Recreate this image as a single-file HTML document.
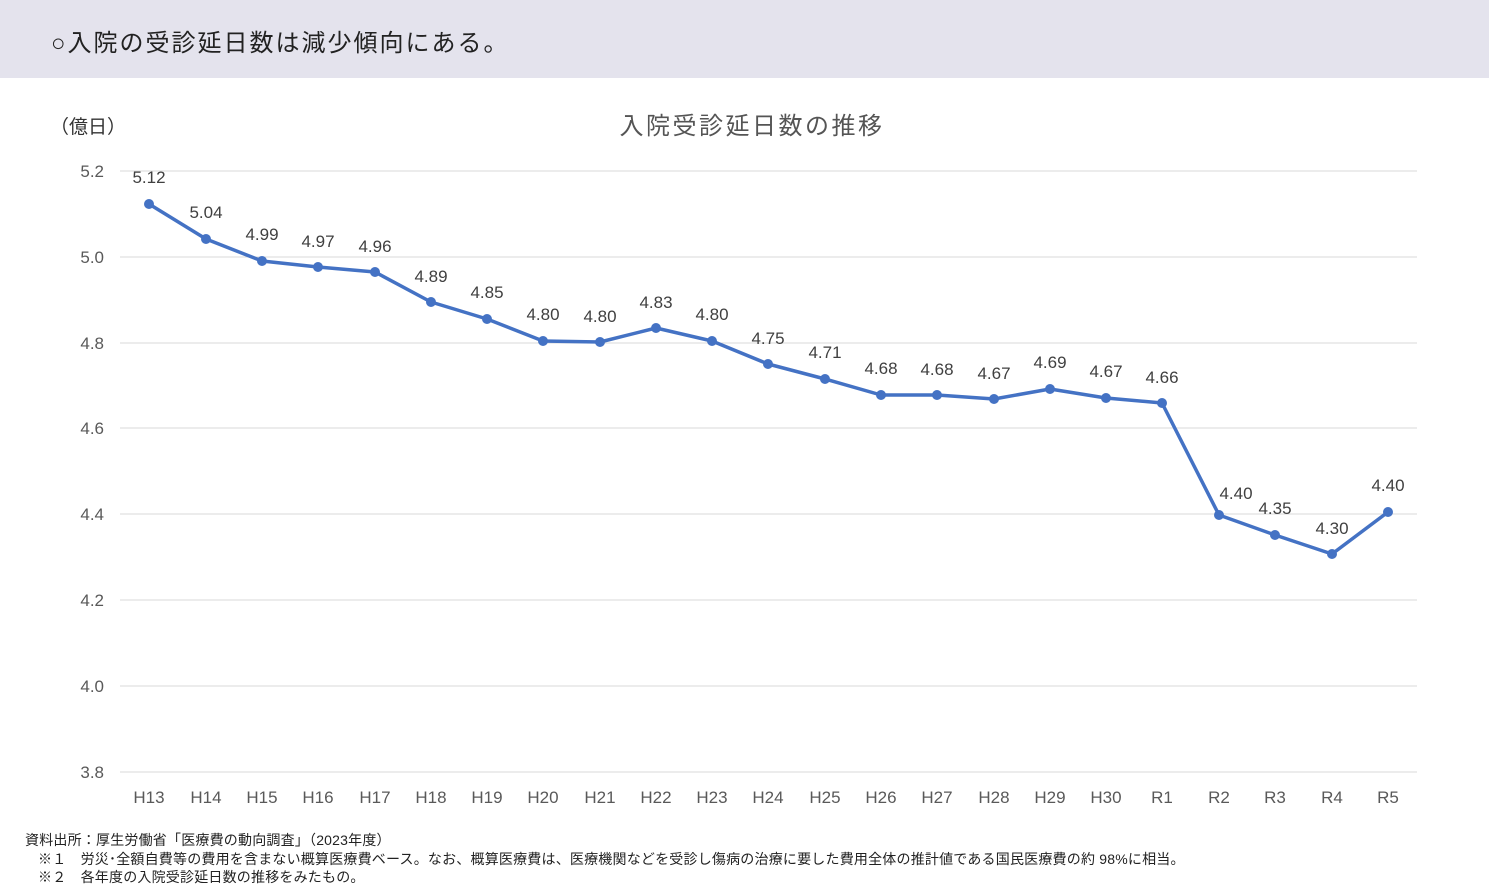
<!DOCTYPE html>
<html><head><meta charset="utf-8"><style>
body{margin:0;width:1489px;height:891px;background:#fff;font-family:"Liberation Sans","Noto Sans CJK JP",sans-serif;overflow:hidden;position:relative}
.hdr{position:absolute;left:0;top:0;width:1489px;height:78px;background:#e4e3ed}
.hdr span{position:absolute;left:51px;top:23px;font-size:24px;letter-spacing:2px;color:#222}
svg{position:absolute;left:0;top:0}
.f{position:absolute;font-size:14px;letter-spacing:0.2px;color:#222;white-space:nowrap}
</style></head><body>
<div class="hdr"><span>○入院の受診延日数は減少傾向にある。</span></div>
<svg width="1489" height="891" font-family="Liberation Sans, Noto Sans CJK JP, sans-serif">
<text x="50" y="133" font-size="19" fill="#333">（億日）</text>
<text x="752" y="134" font-size="24" letter-spacing="2.5" fill="#555" text-anchor="middle">入院受診延日数の推移</text>
<g stroke="#d9d9d9" stroke-width="1">
<line x1="120" x2="1417" y1="171" y2="171"/><line x1="120" x2="1417" y1="257" y2="257"/>
<line x1="120" x2="1417" y1="343" y2="343"/><line x1="120" x2="1417" y1="428" y2="428"/>
<line x1="120" x2="1417" y1="514" y2="514"/><line x1="120" x2="1417" y1="600" y2="600"/>
<line x1="120" x2="1417" y1="686" y2="686"/><line x1="120" x2="1417" y1="772" y2="772"/>
</g>
<g font-size="17" fill="#595959" text-anchor="end">
<text x="104" y="177">5.2</text><text x="104" y="263">5.0</text><text x="104" y="349">4.8</text>
<text x="104" y="434">4.6</text><text x="104" y="520">4.4</text><text x="104" y="606">4.2</text>
<text x="104" y="692">4.0</text><text x="104" y="778">3.8</text>
</g>
<g font-size="17" fill="#595959" text-anchor="middle">
<text x="149" y="803">H13</text><text x="206" y="803">H14</text><text x="262" y="803">H15</text><text x="318" y="803">H16</text><text x="375" y="803">H17</text><text x="431" y="803">H18</text><text x="487" y="803">H19</text><text x="543" y="803">H20</text><text x="600" y="803">H21</text><text x="656" y="803">H22</text><text x="712" y="803">H23</text><text x="768" y="803">H24</text><text x="825" y="803">H25</text><text x="881" y="803">H26</text><text x="937" y="803">H27</text><text x="994" y="803">H28</text><text x="1050" y="803">H29</text><text x="1106" y="803">H30</text><text x="1162" y="803">R1</text><text x="1219" y="803">R2</text><text x="1275" y="803">R3</text><text x="1332" y="803">R4</text><text x="1388" y="803">R5</text>
</g>
<polyline fill="none" stroke="#4472c4" stroke-width="3.5" stroke-linejoin="round" points="149,204 206,239 262,261 318,267 375,272 431,302 487,319 543,341 600,342 656,328 712,341 768,364 825,379 881,395 937,395 994,399 1050,389 1106,398 1162,403 1219,515 1275,535 1332,554 1388,512"/>
<g fill="#4472c4">
<circle cx="149" cy="204" r="5"/><circle cx="206" cy="239" r="5"/><circle cx="262" cy="261" r="5"/><circle cx="318" cy="267" r="5"/><circle cx="375" cy="272" r="5"/><circle cx="431" cy="302" r="5"/><circle cx="487" cy="319" r="5"/><circle cx="543" cy="341" r="5"/><circle cx="600" cy="342" r="5"/><circle cx="656" cy="328" r="5"/><circle cx="712" cy="341" r="5"/><circle cx="768" cy="364" r="5"/><circle cx="825" cy="379" r="5"/><circle cx="881" cy="395" r="5"/><circle cx="937" cy="395" r="5"/><circle cx="994" cy="399" r="5"/><circle cx="1050" cy="389" r="5"/><circle cx="1106" cy="398" r="5"/><circle cx="1162" cy="403" r="5"/><circle cx="1219" cy="515" r="5"/><circle cx="1275" cy="535" r="5"/><circle cx="1332" cy="554" r="5"/><circle cx="1388" cy="512" r="5"/>
</g>
<g font-size="17" fill="#404040" text-anchor="middle">
<text x="149" y="183">5.12</text><text x="206" y="218">5.04</text><text x="262" y="240">4.99</text><text x="318" y="247">4.97</text><text x="375" y="252">4.96</text><text x="431" y="282">4.89</text><text x="487" y="298">4.85</text><text x="543" y="320">4.80</text><text x="600" y="322">4.80</text><text x="656" y="308">4.83</text><text x="712" y="320">4.80</text><text x="768" y="344">4.75</text><text x="825" y="358">4.71</text><text x="881" y="374">4.68</text><text x="937" y="375">4.68</text><text x="994" y="379">4.67</text><text x="1050" y="368">4.69</text><text x="1106" y="377">4.67</text><text x="1162" y="383">4.66</text><text x="1236" y="499">4.40</text><text x="1275" y="514">4.35</text><text x="1332" y="534">4.30</text><text x="1388" y="491">4.40</text>
</g>
</svg>
<div class="f" style="left:25px;top:830px">資料出所：厚生労働省「医療費の動向調査」（2023年度）</div>
<div class="f" style="left:38px;top:849px">※１　労災･全額自費等の費用を含まない概算医療費ベース。なお、概算医療費は、医療機関などを受診し傷病の治療に要した費用全体の推計値である国民医療費の約 98%に相当。</div>
<div class="f" style="left:38px;top:867px">※２　各年度の入院受診延日数の推移をみたもの。</div>
</body></html>
